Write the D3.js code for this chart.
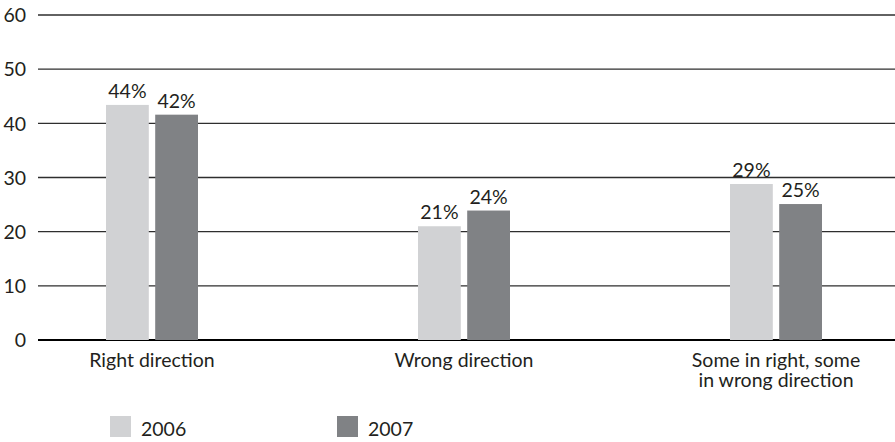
<!DOCTYPE html>
<html>
<head>
<meta charset="utf-8">
<script src="https://cdn.jsdelivr.net/npm/d3@7"></script>
<style>
  html, body { margin: 0; padding: 0; background: #fff; }
  svg { display: block; }
  text { font-family: Lato, "Open Sans", sans-serif; fill: #231f20; }
</style>
</head>
<body>
<svg id="chart" width="895" height="442"></svg>
<script>
const categories = ["Right direction", "Wrong direction", "Some in right, some\nin wrong direction"];
const seriesNames = ["2006", "2007"];
const values2006 = [43.4, 21.0, 28.8];
const values2007 = [41.6, 23.9, 25.1];
const labels2006 = ["44%", "21%", "29%"];
const labels2007 = ["42%", "24%", "25%"];
const yTicks = [0, 10, 20, 30, 40, 50, 60];
const colors = ["#d1d2d4", "#808285"];
const FS = 19.5;

const svg = d3.select("#chart");
const plotLeft = 38, plotRight = 895;

const y = d3.scaleLinear().domain([0, 60]).range([340, 15]);
const x0 = d3.scaleBand().domain(d3.range(categories.length)).range([-4, 932]).paddingInner(0).paddingOuter(0);
const x1 = d3.scaleBand().domain(seriesNames).range([0, 92]).paddingInner(0.13);
const groupOffset = (x0.bandwidth() - 92) / 2;

// gridlines
const grid = svg.append("g");
grid.selectAll("line").data(yTicks).join("line")
  .attr("x1", plotLeft).attr("x2", plotRight)
  .attr("y1", d => y(d)).attr("y2", d => y(d))
  .attr("stroke", d => d === 0 ? "#000" : "#2e2e2e")
  .attr("stroke-width", d => d === 0 ? 2 : 1.3);

// y-axis labels
const yAxis = d3.axisLeft(y).tickValues(yTicks).tickSize(0).tickPadding(0);
const ya = svg.append("g").attr("transform", "translate(26,0)").call(yAxis);
ya.select(".domain").remove();
ya.selectAll("text").attr("font-size", FS).attr("fill", "#231f20")
  .attr("font-family", "Lato, 'Open Sans', sans-serif").attr("dy", "0.35em");

// bars
const rows = categories.map((c, i) => ({
  i,
  vals: [
    { s: seriesNames[0], v: values2006[i], label: labels2006[i] },
    { s: seriesNames[1], v: values2007[i], label: labels2007[i] }
  ]
}));
const groups = svg.append("g").selectAll("g").data(rows).join("g")
  .attr("transform", d => `translate(${x0(d.i) + groupOffset},0)`);
groups.selectAll("rect").data(d => d.vals).join("rect")
  .attr("x", d => x1(d.s))
  .attr("width", x1.bandwidth())
  .attr("y", d => y(d.v))
  .attr("height", d => y(0) - y(d.v))
  .attr("fill", (d, j) => colors[j]);
groups.selectAll("text.val").data(d => d.vals).join("text")
  .attr("class", "val")
  .attr("x", d => x1(d.s) + x1.bandwidth() / 2)
  .attr("y", d => y(d.v) - 7)
  .attr("text-anchor", "middle")
  .attr("font-size", FS)
  .text(d => d.label);

// category labels
const cat = svg.append("g").selectAll("text").data(categories).join("text")
  .attr("x", (d, i) => x0(i) + x0.bandwidth() / 2)
  .attr("y", 367)
  .attr("text-anchor", "middle")
  .attr("font-size", FS);
cat.each(function(d) {
  const t = d3.select(this);
  d.split("\n").forEach((line, k) => {
    t.append("tspan").attr("x", t.attr("x")).attr("dy", k === 0 ? 0 : 20).text(line);
  });
});

// legend
const legendX = [110, 337];
const lg = svg.append("g").selectAll("g").data(seriesNames).join("g")
  .attr("transform", (d, i) => `translate(${legendX[i]},416)`);
lg.append("rect").attr("width", 21).attr("height", 21).attr("fill", (d, i) => colors[i]);
lg.append("text").attr("x", 31).attr("y", 20).attr("font-size", FS).text(d => d);
</script>
</body>
</html>
